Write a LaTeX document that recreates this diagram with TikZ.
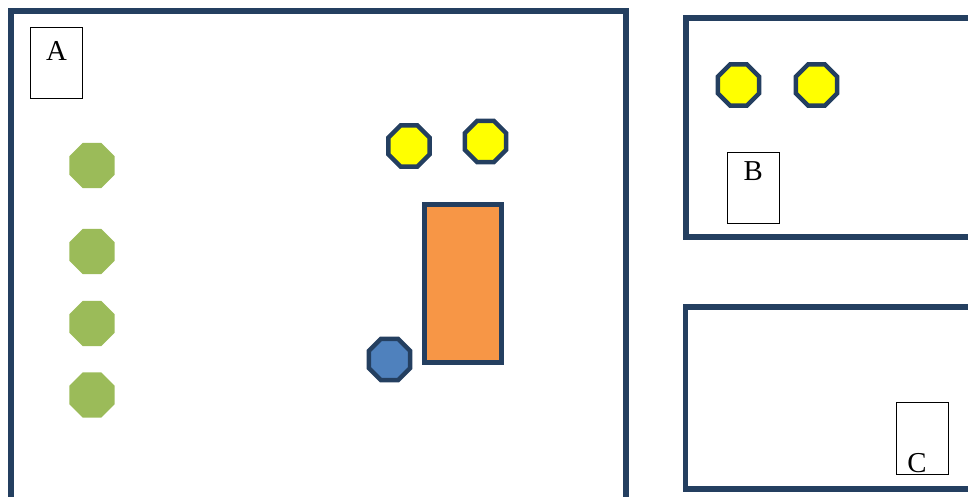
\documentclass[tikz,border=0pt]{standalone}
\usepackage{fontspec}
\setmainfont{Liberation Serif}
\usepackage{tikz}
\usetikzlibrary{positioning, shapes.geometric}
\definecolor{navyline}{HTML}{243F60}
\definecolor{leafgreen}{HTML}{9BBB59}
\definecolor{sunyellow}{HTML}{FFFF00}
\definecolor{skyblue}{HTML}{4F81BD}
\definecolor{orangefill}{HTML}{F79646}

\begin{document}
\begin{tikzpicture}[x=0.025cm, y=-0.025cm,
      frame/.style={draw=navyline, line width=3.9pt, inner sep=0pt, outer sep=0pt},
      tagbox/.style={draw=black, line width=0.7pt, fill=white, inner sep=0pt,
                     minimum width=1.3cm, minimum height=1.78cm},
      tagtext/.style={font=\fontsize{20.5}{22}\selectfont, inner sep=0pt},
      octo/.style={regular polygon, regular polygon sides=8, inner sep=0pt, outer sep=0pt},
      yellowocto/.style={octo, draw=navyline, line width=3.2pt, fill=sunyellow, minimum size=1.11cm},
      blueocto/.style={octo, draw=navyline, line width=3.2pt, fill=skyblue, minimum size=1.12cm},
      greenocto/.style={octo, fill=leafgreen, minimum size=1.22cm},
      block/.style={draw=navyline, line width=3.5pt, fill=orangefill, inner sep=0pt,
                    minimum width=1.925cm, minimum height=3.95cm}
    ]
    \useasboundingbox (0,0) rectangle (968,497);
    \clip (0,0) rectangle (968,497);
    \node[frame, minimum width=15.375cm, minimum height=12.725cm] (frameA) at (318.5,265.5) {};
    \node[frame, minimum width=7.85cm, minimum height=5.475cm] (frameB) at (843,127.5) {};
    \node[frame, minimum width=7.8625cm, minimum height=4.55cm] (frameC) at (842.75,398) {};

    \node[tagbox] (tagA) at (56.5,63) {};
    \node[tagtext, anchor=north, below=0.35cm of tagA.north] (txtA) {A};
    \node[tagbox] (tagB) at (753.25,187.75) {};
    \node[tagtext, anchor=north, below=0.24cm of tagB.north] (txtB) {B};
    \node[tagbox] (tagC) at (922,438.5) {};
    \node[tagtext, anchor=base, xshift=-0.125cm, yshift=0.06cm] (txtC) at (tagC.south) {C};

    \foreach \gy [count=\i] in {165.5, 251.5, 323.5, 395}
      \node[greenocto] (green\i) at (92,\gy) {};

    \node[yellowocto] (sunA1) at (409,146) {};
    \node[yellowocto] (sunA2) at (485.5,141.5) {};
    \node[yellowocto] (sunB1) at (738.5,85) {};
    \node[yellowocto] (sunB2) at (816.5,85) {};
    \node[block] (slab) at (463,283.5) {};
    \node[blueocto] (ball) at (389.5,359.5) {};
  \end{tikzpicture}
\end{document}
